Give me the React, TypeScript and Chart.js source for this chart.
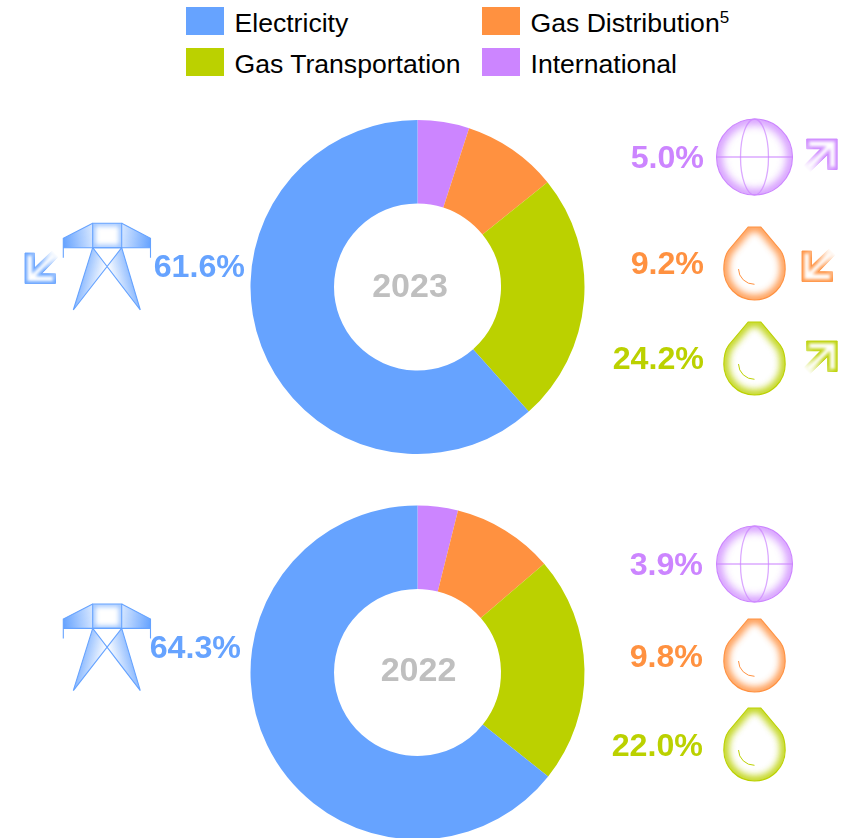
import React, { useEffect, useRef } from "react";
import { Chart, registerables } from "chart.js";

Chart.register(...registerables);

const categories = ["International", "Gas Distribution", "Gas Transportation", "Electricity"];
const values2023 = [5.0, 9.2, 24.2, 61.6];
const values2022 = [3.9, 9.8, 22.0, 64.3];
const years = ["2023", "2022"];
const BLUE = "#66A3FF";
const ORANGE = "#FF9140";
const GREEN = "#BBD100";
const PURPLE = "#CC85FF";
const colors = [PURPLE, ORANGE, GREEN, BLUE];
const FONT = '"Liberation Sans", Arial, sans-serif';

function Donut({ values, top, height }: { values: number[]; top: number; height: number }) {
  const ref = useRef<HTMLCanvasElement>(null);
  useEffect(() => {
    const chart = new Chart(ref.current!, {
      type: "doughnut",
      data: {
        labels: categories,
        datasets: [{ data: values, backgroundColor: colors, borderWidth: 0 }],
      },
      options: {
        animation: false,
        responsive: false,
        radius: 167,
        cutout: "50%",
        layout: { padding: 0 },
        plugins: { legend: { display: false }, tooltip: { enabled: false } },
      } as any,
    });
    return () => chart.destroy();
  }, []);
  return (
    <canvas
      ref={ref}
      width={341}
      height={height}
      style={{ position: "absolute", left: 247, top, width: 341, height }}
    />
  );
}

function Glow({ id, d, color, width = 9, blur = 3, line = 1.1, opacity = 1 }: any) {
  return (
    <g>
      <clipPath id={id}>
        <path d={d} />
      </clipPath>
      <g clipPath={`url(#${id})`}>
        <path d={d} fill="none" stroke={color} strokeWidth={width} opacity={opacity} style={{ filter: `blur(${blur}px)` }} />
      </g>
      <path d={d} fill="none" stroke={color} strokeWidth={line} />
    </g>
  );
}

const DROP =
  "M-6.3 0 L6.3 0 L25.7 23 C29 27.5 30.7 33.5 30.7 42.3 A30.7 30.7 0 0 1 -30.7 42.3 C-30.7 33.5 -29 27.5 -25.7 23 Z";
function Drop({ id, x, y, color }: any) {
  return (
    <g transform={`translate(${x} ${y})`}>
      <Glow id={id} d={DROP} color={color} width={10} blur={3.5} opacity={0.9} />
      <path d="M-16 42 A16 15.5 0 0 0 0 57.3" fill="none" stroke={color} strokeWidth={1} />
    </g>
  );
}

function Globe({ id, x, y, color }: any) {
  return (
    <g transform={`translate(${x} ${y})`}>
      <Glow id={id} d="M-38 0 A38 38 0 1 1 38 0 A38 38 0 1 1 -38 0 Z" color={color} width={11} blur={4.5} opacity={0.85} />
      <line x1={-38} x2={38} y1={0} y2={0} stroke={color} strokeWidth={1.3} opacity={0.7} />
      <ellipse cx={0} cy={0} rx={14} ry={38} fill="none" stroke={color} strokeWidth={1.3} opacity={0.7} />
    </g>
  );
}

const ARROW = "M0 0 L30.5 0 L30.5 30.5 L21 30.5 L21 15.5 L3 33 L-3 27 L14 9.8 L0 9.8 Z";
function Arrow({ id, x, y, color, flip }: any) {
  const t = flip ? `translate(${x + 30.5} ${y + 30.5}) rotate(180)` : `translate(${x} ${y})`;
  return (
    <g transform={t}>
      <linearGradient id={id + "g"} gradientUnits="userSpaceOnUse" x1={14} y1={16} x2={0} y2={30}>
        <stop offset="0" stopColor="#fff" />
        <stop offset="1" stopColor="#fff" stopOpacity={0} />
      </linearGradient>
      <mask id={id + "m"} maskUnits="userSpaceOnUse" x={-8} y={-5} width={46} height={46}>
        <rect x={-8} y={-5} width={46} height={46} fill={`url(#${id}g)`} />
      </mask>
      <g mask={`url(#${id}m)`}>
        <Glow id={id} d={ARROW} color={color} width={5} blur={1.8} line={0.9} opacity={0.9} />
      </g>
    </g>
  );
}

function Grad({ id, x1, y1, x2, y2, a, b }: any) {
  return (
    <linearGradient id={id} gradientUnits="userSpaceOnUse" x1={x1} y1={y1} x2={x2} y2={y2}>
      <stop offset="0" stopColor={BLUE} stopOpacity={a} />
      <stop offset="1" stopColor={BLUE} stopOpacity={b} />
    </linearGradient>
  );
}

function Tower({ id, dy }: any) {
  const c = BLUE;
  return (
    <g transform={`translate(0 ${dy})`}>
      <Grad id={id + "l"} x1={63} y1={240} x2={94} y2={236} a={1} b={0.25} />
      <Grad id={id + "r"} x1={151} y1={240} x2={120} y2={236} a={1} b={0.25} />
      <Grad id={id + "p"} x1={80} y1={272} x2={104} y2={278} a={0.85} b={0} />
      <Grad id={id + "q"} x1={134} y1={272} x2={110} y2={278} a={0.85} b={0} />
      <path d="M92.7 223.3 L63.3 238.3 L63.3 247.7 L92.7 247.7 Z" fill={`url(#${id}l)`} />
      <path d="M121.7 223.3 L150.5 238.3 L150.5 247.7 L121.7 247.7 Z" fill={`url(#${id}r)`} />
      <path d="M92.7 247.7 L73.3 310 L106.7 267.5 Z" fill={`url(#${id}p)`} />
      <path d="M121.7 247.7 L140.3 310 L106.7 267.5 Z" fill={`url(#${id}q)`} />
      <Glow id={id + "b"} d="M92.7 223.3 L121.7 223.3 L121.7 247.7 L92.7 247.7 Z" color={c} width={5} blur={2.5} opacity={0.7} />
      <path d="M92.7 223.3 L63.3 238.3 L63.3 257.7 M121.7 223.3 L150.5 238.3 L150.5 257.7 M63.3 247.7 L150.5 247.7 M92.7 247.7 L140.3 310 M121.7 247.7 L73.3 310 M92.7 247.7 L73.3 310 M121.7 247.7 L140.3 310" fill="none" stroke={c} strokeWidth={1.1} />
    </g>
  );
}

function Pct({ text, right, y, color }: any) {
  return (
    <div
      style={{
        position: "absolute",
        right: 864 - right,
        top: y,
        transform: "translateY(-50%)",
        color,
        font: `bold 32.2px ${FONT}`,
        lineHeight: "40px",
        whiteSpace: "nowrap",
      }}
    >
      {text}
    </div>
  );
}

function Year({ text, cx, y }: any) {
  return (
    <div
      style={{
        position: "absolute",
        left: cx,
        top: y,
        transform: "translate(-50%,-50%)",
        color: "#BFBFBF",
        font: `bold 34px ${FONT}`,
        lineHeight: "40px",
      }}
    >
      {text}
    </div>
  );
}

function Legend({ label, sup, color, x, y, textY }: any) {
  return (
    <>
      <div style={{ position: "absolute", left: x, top: y, width: 38, height: 28, background: color }} />
      <div
        style={{
          position: "absolute",
          left: x + 48.5,
          top: textY - 17,
          font: `26.6px ${FONT}`,
          lineHeight: "34px",
          color: "#000",
          whiteSpace: "nowrap",
        }}
      >
        {label}
        {sup ? <sup style={{ fontSize: 17, lineHeight: 0, verticalAlign: "9px" }}>{sup}</sup> : null}
      </div>
    </>
  );
}

const pct = (v: number) => v.toFixed(1) + "%";

export default function App() {
  useEffect(() => {
    document.body.style.margin = "0";
  }, []);
  return (
    <div style={{ position: "relative", width: 864, height: 838, overflow: "hidden", background: "#fff", margin: 0 }}>
      <Legend label={categories[3]} color={BLUE} x={186} y={7} textY={23} />
      <Legend label={categories[1]} sup="5" color={ORANGE} x={482} y={7} textY={23} />
      <Legend label={categories[2]} color={GREEN} x={186} y={48} textY={64} />
      <Legend label={categories[0]} color={PURPLE} x={482} y={48} textY={64} />

      <Donut values={values2023} top={117} height={340} />
      <Donut values={values2022} top={502} height={341} />

      <svg width={864} height={838} style={{ position: "absolute", left: 0, top: 0 }}>
        <Tower id="t1" dy={0} />
        <Tower id="t2" dy={380.7} />
        <Globe id="g1" x={754.5} y={157} color={PURPLE} />
        <Globe id="g2" x={754.5} y={564} color={PURPLE} />
        <Drop id="d1" x={754.5} y={227} color={ORANGE} />
        <Drop id="d2" x={754.5} y={322} color={GREEN} />
        <Drop id="d3" x={754.5} y={619} color={ORANGE} />
        <Drop id="d4" x={754.5} y={708} color={GREEN} />
        <Arrow id="a1" x={806.7} y={139} color={PURPLE} />
        <Arrow id="a2" x={802} y={251} color={ORANGE} flip />
        <Arrow id="a3" x={806.7} y={341} color={GREEN} />
        <Arrow id="a4" x={25} y={253} color={BLUE} flip />
      </svg>

      <Year text={years[0]} cx={410} y={285} />
      <Year text={years[1]} cx={418.5} y={669} />

      <Pct text={pct(values2023[3])} right={245} y={266} color={BLUE} />
      <Pct text={pct(values2023[0])} right={704} y={157} color={PURPLE} />
      <Pct text={pct(values2023[1])} right={704} y={263} color={ORANGE} />
      <Pct text={pct(values2023[2])} right={704} y={358} color={GREEN} />
      <Pct text={pct(values2022[3])} right={241} y={647} color={BLUE} />
      <Pct text={pct(values2022[0])} right={703} y={564} color={PURPLE} />
      <Pct text={pct(values2022[1])} right={703} y={656} color={ORANGE} />
      <Pct text={pct(values2022[2])} right={703} y={745} color={GREEN} />
    </div>
  );
}
